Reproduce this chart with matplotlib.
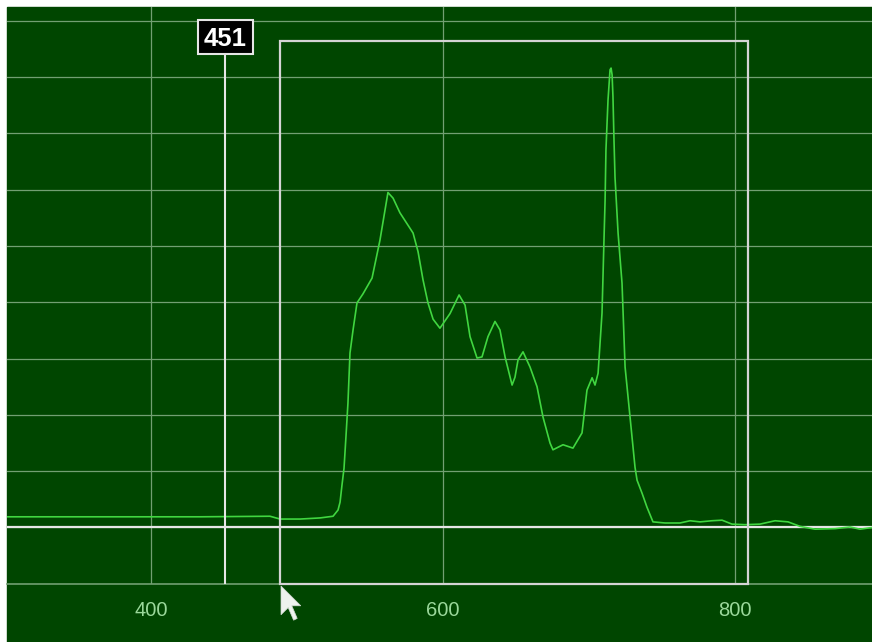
import matplotlib
matplotlib.use("Agg")
import matplotlib.pyplot as plt
from matplotlib.patches import Rectangle, Polygon
from matplotlib.transforms import IdentityTransform

# ---- data ----
wavelength = [301.4, 433.6, 481.5, 488.4, 502.1, 515.8, 524.7, 528.1, 529.5, 530.8,
              532.2, 533.6, 534.9, 536.3, 538.4, 541.1, 545.2, 551.4, 556.8, 562.3,
              565.8, 570.5, 579.5, 582.9, 586.3, 589.7, 593.2, 597.9, 604.8, 611.0,
              615.1, 618.5, 623.3, 626.7, 630.8, 635.6, 639.0, 642.5, 647.3, 649.3,
              651.4, 654.8, 659.6, 664.4, 668.5, 673.3, 675.3, 682.2, 689.0, 695.2,
              698.6, 702.1, 704.1, 706.2, 708.9, 710.3, 711.0, 711.6, 713.0, 714.4,
              715.1, 715.8, 716.4, 717.1, 717.8, 719.9, 722.6, 724.7, 728.1, 731.5,
              732.9, 736.3, 739.7, 743.8, 752.1, 762.3, 769.2, 776.0, 784.2, 791.1,
              797.9, 806.8, 817.1, 827.4, 836.3, 844.5, 854.8, 868.5, 878.8, 885.6,
              893.8]
intensity = [0.19, 0.19, 0.20, 0.15, 0.15, 0.17, 0.20, 0.31, 0.45, 0.75,
             1.05, 1.64, 2.21, 3.10, 3.51, 3.99, 4.15, 4.43, 5.10, 5.95,
             5.85, 5.59, 5.23, 4.90, 4.40, 3.99, 3.70, 3.54, 3.80, 4.13,
             3.95, 3.39, 3.01, 3.03, 3.39, 3.66, 3.51, 3.03, 2.53, 2.67,
             2.98, 3.12, 2.85, 2.50, 1.96, 1.50, 1.38, 1.47, 1.41, 1.68,
             2.44, 2.66, 2.53, 2.74, 3.81, 5.16, 5.81, 6.71, 7.59, 8.13,
             8.16, 8.04, 7.65, 6.88, 6.22, 5.23, 4.34, 2.85, 1.96, 1.07,
             0.84, 0.61, 0.36, 0.10, 0.08, 0.08, 0.12, 0.10, 0.12, 0.13,
             0.06, 0.05, 0.06, 0.12, 0.10, 0.02, -0.03, -0.02, 0.01, -0.03,
             0.00]
x_ticks = [400, 600, 800]
x_tick_labels = ["400", "600", "800"]
marker_wl = 451
roi_start, roi_end, roi_top = 488.4, 808.9, 8.64

# ---- style ----
BG = "#004600"
GRID = "#729f72"
LINE = "#40d640"
WHITE = "#e6e6e6"
TICKC = "#9ad89a"

W, H = 872, 642
fig = plt.figure(figsize=(W / 100, H / 100), dpi=100, facecolor="white")
fig.patches.append(Rectangle((7 / W, 0), (W - 7) / W, (H - 7) / H,
                             transform=fig.transFigure, color=BG, zorder=-5))

ax_bottom_px = 583.8
ax = fig.add_axes([7 / W, (H - ax_bottom_px) / H, (W - 7) / W, (ax_bottom_px - 7) / H])
ax.set_zorder(1)
ax.set_facecolor(BG)
ax.set_xlim(301.4, 893.8)
ax.set_ylim(-1, 9.245)

ax.set_xticks(x_ticks)
ax.set_xticklabels(x_tick_labels)
ax.set_yticks(range(0, 10))
ax.set_yticklabels([])
ax.grid(True, color=GRID, lw=0.9)
ax.set_axisbelow(True)
ax.tick_params(axis="x", length=0, pad=12.5, labelcolor=TICKC, labelsize=14.5)
ax.tick_params(axis="y", length=0)
for lab in ax.get_xticklabels():
    lab.set_fontfamily("Liberation Sans")
for s in ["top", "left", "right"]:
    ax.spines[s].set_visible(False)
ax.spines["bottom"].set_color(GRID)
ax.spines["bottom"].set_linewidth(1.2)

# spectrum
ax.plot(wavelength, intensity, color=LINE, lw=1.2, zorder=4)

# baseline
ax.axhline(0, color=WHITE, lw=1.6, zorder=3)

# region of interest box
ax.add_patch(Rectangle((roi_start, -1), roi_end - roi_start, roi_top + 1,
                       fill=False, edgecolor="#d4d4d4", lw=1.6, zorder=5, clip_on=False))

# marker line with label
box_bottom, box_top = 8.41, 9.01
ax.plot([marker_wl, marker_wl], [-1, box_bottom], color=WHITE, lw=1.5, zorder=5)
ax.add_patch(Rectangle((marker_wl - 18.8, box_bottom), 37.7, box_top - box_bottom,
                       facecolor="black", edgecolor=WHITE, lw=1.5, zorder=6))
ax.text(marker_wl, 8.55, str(marker_wl), color="white", fontsize=18.5,
        fontweight="bold", family="Liberation Sans", ha="center", va="baseline", zorder=7)

# mouse cursor (screen artefact)
tip_x, tip_y = 281, 586
shape = [(0, 0), (0, 16), (4, 12), (7, 19), (9, 18), (6, 11), (11, 11)]
sc = 1.8
pts = [(tip_x + sc * a, H - (tip_y + sc * b)) for a, b in shape]
fig.patches.append(Polygon(pts, closed=True, facecolor="#eef2ee", edgecolor="#d0d8d0",
                           lw=0.5, transform=IdentityTransform(), zorder=10))

fig.savefig("out.png", dpi=100, facecolor=fig.get_facecolor())
